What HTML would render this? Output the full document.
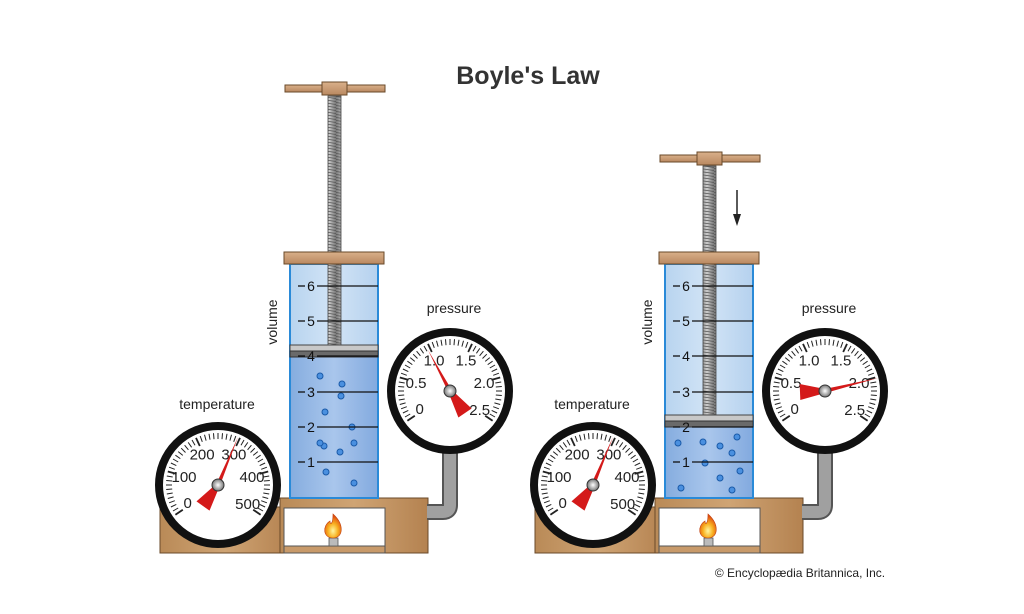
<!DOCTYPE html>
<html><head><meta charset="utf-8"><style>
html,body{margin:0;padding:0;background:#fff;width:1024px;height:614px;overflow:hidden}
svg{display:block}
text{font-family:"Liberation Sans",Arial,sans-serif}
</style></head><body>
<svg id="s" width="1024" height="614" viewBox="0 0 1024 614" xmlns="http://www.w3.org/2000/svg">
<defs>
<linearGradient id="wood" x1="0" y1="0" x2="1" y2="0">
<stop offset="0" stop-color="#b98a57"/><stop offset="0.5" stop-color="#cfa474"/><stop offset="1" stop-color="#b48250"/></linearGradient>
<linearGradient id="cap" x1="0" y1="0" x2="0" y2="1">
<stop offset="0" stop-color="#d9b08a"/><stop offset="1" stop-color="#b98860"/></linearGradient>
<linearGradient id="rod" x1="0" y1="0" x2="1" y2="0">
<stop offset="0" stop-color="#777"/><stop offset="0.5" stop-color="#ccc"/><stop offset="1" stop-color="#777"/></linearGradient>
<pattern id="thread" width="14" height="3" patternUnits="userSpaceOnUse">
<rect width="14" height="3" fill="url(#rod)"/><line x1="0" y1="0.5" x2="14" y2="2.5" stroke="#555" stroke-width="0.8"/></pattern>
<linearGradient id="glass" x1="0" y1="0" x2="1" y2="0">
<stop offset="0" stop-color="#b8d4ef"/><stop offset="0.5" stop-color="#d2e4f6"/><stop offset="1" stop-color="#b5d1ee"/></linearGradient>
<linearGradient id="gas" x1="0" y1="0" x2="1" y2="0">
<stop offset="0" stop-color="#86addf"/><stop offset="0.5" stop-color="#a9c6ec"/><stop offset="1" stop-color="#83aadf"/></linearGradient>
<radialGradient id="knob"><stop offset="0" stop-color="#fff"/><stop offset="1" stop-color="#777"/></radialGradient>
<radialGradient id="flame" cx="0.5" cy="0.7" r="0.6"><stop offset="0" stop-color="#fff6a0"/><stop offset="0.5" stop-color="#f8b020"/><stop offset="1" stop-color="#e05010"/></radialGradient>
</defs>
<text x="528" y="84" font-size="25" font-weight="bold" fill="#333" text-anchor="middle">Boyle's Law</text>
<text x="800" y="577" font-size="12" fill="#222" text-anchor="middle">© Encyclopædia Britannica, Inc.</text>
<g id="g"></g>
<line x1="737" y1="190" x2="737" y2="218" stroke="#222" stroke-width="1.5"/><polygon points="733,214 741,214 737,226" fill="#222"/>
</svg>
<script>
var g=document.getElementById('g');var h='';
function app(dx,pistonY,handleY,ptip,ptail,bubbles){
 h+='<rect x="'+(dx+160)+'" y="507" width="130" height="46" fill="url(#wood)" stroke="#6a4a2a" stroke-width="1"/>';
 h+='<rect x="'+(dx+280)+'" y="498" width="148" height="55" fill="url(#wood)" stroke="#6a4a2a" stroke-width="1"/>';
 h+='<rect x="'+(dx+284)+'" y="508" width="101" height="45" fill="#fff" stroke="#555" stroke-width="1"/>';
 h+='<rect x="'+(dx+284)+'" y="546" width="101" height="7" fill="#c89a6a" stroke="#555" stroke-width="1"/>';
 h+='<rect x="'+(dx+329)+'" y="538" width="9" height="8" fill="#bbb" stroke="#555" stroke-width="0.8"/>';
 h+='<path d="M'+(dx+333)+' 514 C'+(dx+345)+' 525 '+(dx+343)+' 538 '+(dx+333)+' 538 C'+(dx+323)+' 538 '+(dx+322)+' 526 '+(dx+330)+' 521 C'+(dx+330)+' 525 '+(dx+333)+' 525 '+(dx+333)+' 514Z" fill="url(#flame)" stroke="#c04010" stroke-width="0.6"/>';
 h+='<path d="M'+(dx+450)+' 440 L'+(dx+450)+' 505 Q'+(dx+450)+' 512 '+(dx+443)+' 512 L'+(dx+427)+' 512" fill="none" stroke="#555" stroke-width="16"/>';
 h+='<path d="M'+(dx+450)+' 440 L'+(dx+450)+' 505 Q'+(dx+450)+' 512 '+(dx+443)+' 512 L'+(dx+427)+' 512" fill="none" stroke="#a0a0a0" stroke-width="12"/>';
 h+='<rect x="'+(dx+290)+'" y="264" width="88" height="234" fill="url(#glass)" stroke="#2a8ad8" stroke-width="2"/>';
 h+='<rect x="'+(dx+291)+'" y="'+(pistonY+12)+'" width="86" height="'+(497-pistonY-12)+'" fill="url(#gas)"/>';
 bubbles.forEach(function(b){h+='<circle cx="'+(dx+b[0])+'" cy="'+b[1]+'" r="3" fill="#4a90e0" stroke="#1a5aa8" stroke-width="1"/>';});
 h+='<rect x="'+(dx+328)+'" y="'+(handleY+8)+'" width="13" height="'+(pistonY-handleY-8)+'" fill="url(#thread)" stroke="#444" stroke-width="0.8"/>';
 h+='<rect x="'+(dx+290)+'" y="'+pistonY+'" width="88" height="6" fill="#c8c8c8" stroke="#444" stroke-width="1"/>';
 h+='<rect x="'+(dx+290)+'" y="'+(pistonY+6)+'" width="88" height="6" fill="#6a6a6a" stroke="#333" stroke-width="1"/>';
 var ys=[462,427,392,356,321,286];
 for(var i=0;i<6;i++){var y=ys[i];
  h+='<line x1="'+(dx+298)+'" y1="'+y+'" x2="'+(dx+305)+'" y2="'+y+'" stroke="#111" stroke-width="1.3"/>';
  h+='<line x1="'+(dx+317)+'" y1="'+y+'" x2="'+(dx+378)+'" y2="'+y+'" stroke="#111" stroke-width="1.3"/>';
  h+='<text x="'+(dx+311)+'" y="'+(y+5)+'" font-size="14" fill="#111" text-anchor="middle">'+(i+1)+'</text>';}
 h+='<rect x="'+(dx+284)+'" y="252" width="100" height="12" fill="url(#cap)" stroke="#6a4a2a" stroke-width="1"/>';
 h+='<rect x="'+(dx+285)+'" y="'+(handleY-3)+'" width="100" height="7" fill="url(#cap)" stroke="#6a4a2a" stroke-width="1"/>';
 h+='<rect x="'+(dx+322)+'" y="'+(handleY-6)+'" width="25" height="13" fill="url(#cap)" stroke="#6a4a2a" stroke-width="1"/>';
 h+='<text transform="translate('+(dx+277)+',322) rotate(-90)" font-size="14" fill="#222" text-anchor="middle">volume</text>';
 gauge(dx+218,485,['0','100','200','300','400','500']);
 h+='<text x="'+(dx+217)+'" y="409" font-size="14" fill="#222" text-anchor="middle">temperature</text>';
 gauge(dx+450,391,['0','0.5','1.0','1.5','2.0','2.5']);
 h+='<text x="'+(dx+454)+'" y="313" font-size="14" fill="#222" text-anchor="middle">pressure</text>';
 needle(dx+218,485,[dx+238,437],[dx+203,506]);
 needle(dx+450,391,[dx+ptip[0],ptip[1]],[dx+ptail[0],ptail[1]]);
}
function gauge(cx,cy,labels){
 h+='<circle cx="'+cx+'" cy="'+cy+'" r="59" fill="#fff" stroke="#111" stroke-width="8"/>';
 var a0=215,a1=-35,n=50;
 for(var i=0;i<=n;i++){var a=(a0-(a0-a1)*i/n)*Math.PI/180;var big=i%10==0;var r1=52,r2=big?43:46;
  h+='<line x1="'+(cx+r1*Math.cos(a)).toFixed(1)+'" y1="'+(cy-r1*Math.sin(a)).toFixed(1)+'" x2="'+(cx+r2*Math.cos(a)).toFixed(1)+'" y2="'+(cy-r2*Math.sin(a)).toFixed(1)+'" stroke="#222" stroke-width="'+(big?1.8:1)+'"/>';}
 var la=[210,166,117,63,14,-32];
 for(var i=0;i<6;i++){var a=la[i]*Math.PI/180;var r=35;
  h+='<text x="'+(cx+r*Math.cos(a)).toFixed(1)+'" y="'+(cy-r*Math.sin(a)+5.5).toFixed(1)+'" font-size="15" fill="#222" text-anchor="middle">'+labels[i]+'</text>';}
}
function needle(cx,cy,tip,tail){
 var dx=tip[0]-cx,dy=tip[1]-cy,L=Math.hypot(dx,dy),ux=dx/L,uy=dy/L,px=-uy,py=ux;
 h+='<polygon points="'+(cx+px*2)+','+(cy+py*2)+' '+tip[0]+','+tip[1]+' '+(cx-px*2)+','+(cy-py*2)+'" fill="#d41a1a"/>';
 var tx=tail[0]-cx,ty=tail[1]-cy,T=Math.hypot(tx,ty),vx=tx/T,vy=ty/T,qx=-vy,qy=vx;
 h+='<polygon points="'+(cx+qx*2)+','+(cy+qy*2)+' '+(tail[0]+qx*8)+','+(tail[1]+qy*8)+' '+(tail[0]-qx*8)+','+(tail[1]-qy*8)+' '+(cx-qx*2)+','+(cy-qy*2)+'" fill="#d41a1a"/>';
 h+='<circle cx="'+cx+'" cy="'+cy+'" r="6" fill="url(#knob)" stroke="#333" stroke-width="1"/>';
}
app(0,345,88,[428,350],[465,413],[[320,376],[342,384],[325,412],[341,396],[324,446],[352,427],[320,443],[340,452],[354,443],[326,472],[354,483]]);
app(375,415,158,[503,378],[425,392],[[303,443],[328,442],[345,446],[362,437],[357,453],[330,463],[365,471],[345,478],[306,488],[357,490]]);
g.innerHTML=h;
</script>
</body></html>
